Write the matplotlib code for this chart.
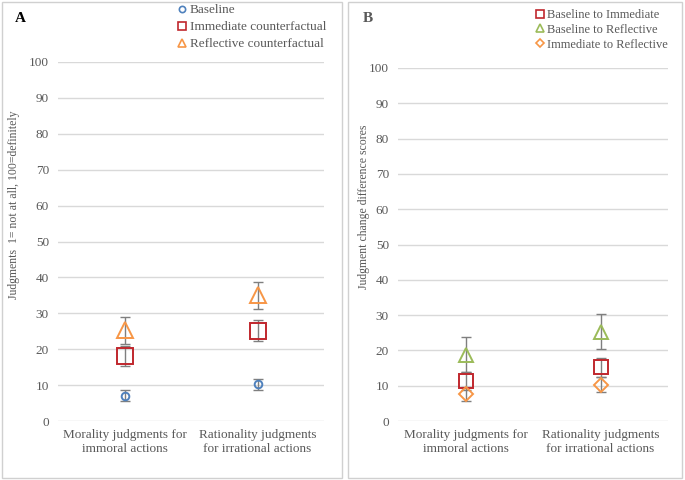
import matplotlib
matplotlib.use('Agg')
import matplotlib.pyplot as plt
from matplotlib.patches import Rectangle
from matplotlib.lines import Line2D

# data
categories = ['Morality judgments for\nimmoral actions',
              'Rationality judgments\nfor irrational actions']
yticks = list(range(0, 101, 10))

# panel A: mean judgments and error half-widths
baseline = [7.0, 10.2]
baseline_err = [1.5, 1.6]
immediate = [18.2, 25.2]
immediate_err = [2.8, 2.9]
reflective = [25.3, 35.0]
reflective_err = [3.8, 3.8]

# panel B: change difference scores
base_to_imm = [11.3, 15.2]
base_to_imm_err = [2.5, 2.6]
base_to_ref = [18.8, 25.3]
base_to_ref_err = [5.0, 5.0]
imm_to_ref = [7.6, 10.3]
imm_to_ref_err = [1.9, 2.2]

TXT = '#595959'
GRID = '#d9d9d9'
ERRC = '#7f7f7f'
BLUE = '#4f81bd'
RED = '#c0272d'
ORANGE = '#f79646'
GREEN = '#9bbb59'

plt.rcParams['font.family'] = ['Liberation Serif', 'DejaVu Serif']

W, H = 685, 480
fig = plt.figure(figsize=(W / 100, H / 100), dpi=100)


def fx(px):
    return px / W


def fy(py):
    return 1 - py / H


def panel_box(x0, x1, y0, y1):
    fig.patches.append(Rectangle((fx(x0), fy(y1)), fx(x1 - x0), (y1 - y0) / H,
                                 transform=fig.transFigure, fill=False,
                                 edgecolor='#d0d0d0', linewidth=1.0))


def setup_axes(ax):
    ax.set_xlim(-0.5, 1.5)
    ax.set_ylim(0, 100)
    ax.set_yticks(yticks)
    ax.set_xticks([0, 1])
    ax.set_xticklabels(categories, fontsize=9.5, color=TXT, linespacing=1.15)
    ax.tick_params(axis='both', length=0, colors=TXT, labelsize=9.5)
    ax.tick_params(axis='y', pad=6.5)
    ax.tick_params(axis='x', pad=6)
    for s in ax.spines.values():
        s.set_visible(False)
    ax.grid(axis='y', color=GRID, linewidth=1.0)
    ax.set_axisbelow(True)


def plot_series(ax, y, err, marker, color, ms):
    ax.errorbar([0, 1], y, yerr=err, fmt='none', ecolor=ERRC, elinewidth=1.0,
                capsize=3.5, capthick=1.0, zorder=2)
    ax.plot([0, 1], y, linestyle='none', marker=marker, markersize=ms,
            markerfacecolor='none', markeredgecolor=color, markeredgewidth=1.4,
            zorder=3, clip_on=False)


# panel borders
panel_box(2, 342, 2, 478)
panel_box(348, 682, 2, 478)

# ---- panel A ----
axA = fig.add_axes([fx(58), fy(421), fx(324 - 58), (421 - 62) / H])
setup_axes(axA)
plot_series(axA, baseline, baseline_err, 'o', BLUE, 5.5)
plot_series(axA, immediate, immediate_err, 's', RED, 11)
plot_series(axA, reflective, reflective_err, '^', ORANGE, 11)
fig.text(fx(14), fy(205), 'Judgments  1= not at all, 100=definitely',
         rotation=90, ha='center', va='center', fontsize=8.5, color=TXT)
fig.text(fx(20), fy(19), 'A', fontsize=11, fontweight='bold', color='black',
         ha='center', va='center')

legA = [Line2D([], [], linestyle='none', marker='o', markersize=4.5,
               markerfacecolor='none', markeredgecolor=BLUE, markeredgewidth=1.2),
        Line2D([], [], linestyle='none', marker='s', markersize=5.5,
               markerfacecolor='none', markeredgecolor=RED, markeredgewidth=1.2),
        Line2D([], [], linestyle='none', marker='^', markersize=5.5,
               markerfacecolor='none', markeredgecolor=ORANGE, markeredgewidth=1.2)]
fig.legend(legA, ['Baseline', 'Immediate counterfactual', 'Reflective counterfactual'],
           loc='upper left', bbox_to_anchor=(fx(178), fy(4)), frameon=False,
           fontsize=9.5, labelcolor=TXT, handlelength=0.6, handletextpad=0.3,
           labelspacing=0.36, borderaxespad=0, borderpad=0)

# ---- panel B ----
axB = fig.add_axes([fx(398), fy(421), fx(668 - 398), (421 - 68) / H])
setup_axes(axB)
plot_series(axB, base_to_ref, base_to_ref_err, '^', GREEN, 10)
plot_series(axB, base_to_imm, base_to_imm_err, 's', RED, 10)
plot_series(axB, imm_to_ref, imm_to_ref_err, 'D', ORANGE, 7)
fig.text(fx(364), fy(207), 'Judgment change difference scores',
         rotation=90, ha='center', va='center', fontsize=8.5, color=TXT)
fig.text(fx(368), fy(19), 'B', fontsize=11, fontweight='bold', color=TXT,
         ha='center', va='center')

legB = [Line2D([], [], linestyle='none', marker='s', markersize=5.5,
               markerfacecolor='none', markeredgecolor=RED, markeredgewidth=1.2),
        Line2D([], [], linestyle='none', marker='^', markersize=5.5,
               markerfacecolor='none', markeredgecolor=GREEN, markeredgewidth=1.2),
        Line2D([], [], linestyle='none', marker='D', markersize=4.5,
               markerfacecolor='none', markeredgecolor=ORANGE, markeredgewidth=1.2)]
fig.legend(legB, ['Baseline to Immediate', 'Baseline to Reflective', 'Immediate to Reflective'],
           loc='upper left', bbox_to_anchor=(fx(536), fy(9)), frameon=False,
           fontsize=9, labelcolor=TXT, handlelength=0.6, handletextpad=0.3,
           labelspacing=0.22, borderaxespad=0, borderpad=0)

fig.savefig('out.png', dpi=100, facecolor='white')
